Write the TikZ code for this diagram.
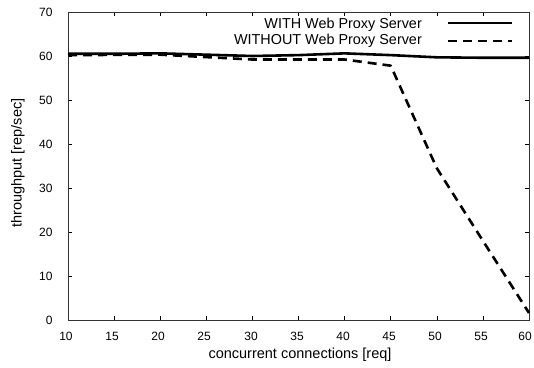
\documentclass[tikz,border=0pt]{standalone}
\usepackage{fontspec}
\setmainfont{Liberation Sans}
\begin{document}
\begin{tikzpicture}[x=1pt,y=1pt,
  ticklab/.style={font=\fontsize{12}{12}\selectfont},
  axlab/.style={font=\fontsize{14.5}{15}\selectfont},
  legtext/.style={font=\fontsize{14.4}{15}\selectfont, anchor=east, inner sep=0pt},
  withline/.style={line width=2.6pt},
  withoutline/.style={line width=2.6pt, dash pattern=on 9pt off 6pt},
  frame/.style={line width=0.8pt, draw=black!80},
  tick/.style={line width=0.6pt}]
\useasboundingbox (0,0) rectangle (534,367);
% mapping: X(v)=68+(v-10)*9.22 ; Y(v)=47+4.4*v
\def\xa{68}\def\xb{529}\def\ya{47}\def\yb{355}
% ticks
\foreach \v in {10,15,...,60} {
  \pgfmathsetmacro{\px}{68+(\v-10)*9.22}
  \draw[tick] (\px,\ya) -- ++(0,4);
  \draw[tick] (\px,\yb) -- ++(0,-4);
}
\foreach \v/\lx in {10/66,15/112,20/158,25/204,30/251,35/297,40/343,45/389,50/435,55/481,60/525} {
  \node[ticklab] at (\lx,31) {\v};
}
\foreach \v in {0,10,...,70} {
  \pgfmathsetmacro{\py}{47+4.4*\v}
  \draw[tick] (\xa,\py) -- ++(4,0);
  \draw[tick] (\xb,\py) -- ++(-4,0);
  \node[ticklab, anchor=east] at (56,\py) {\v};
}
\draw[frame] (\xa,\ya) rectangle (\xb,\yb);
% axis labels
\node[axlab] (xl) at (300,12) {concurrent connections [req]};
\node[axlab, rotate=90] (yl) at (18,204) {throughput [rep/sec]};
% legend
\node[legtext] (l1) at (422,342) {WITH Web Proxy Server};
\node[legtext] (l2) at (422,326) {WITHOUT Web Proxy Server};
\coordinate (s1) at (448,344); \coordinate (e1) at (512,344);
\coordinate (s2) at (448,326); \coordinate (e2) at (512,326);
\draw[withline] (s1) -- (e1);
\draw[withoutline] (s2) -- (e2);
% data
\draw[withline, line join=round]
  plot coordinates {
    ({68+0*9.22},{47+4.4*60.5})
    ({68+5*9.22},{47+4.4*60.5})
    ({68+10*9.22},{47+4.4*60.6})
    ({68+15*9.22},{47+4.4*60.3})
    ({68+20*9.22},{47+4.4*60.0})
    ({68+25*9.22},{47+4.4*60.2})
    ({68+30*9.22},{47+4.4*60.6})
    ({68+35*9.22},{47+4.4*60.2})
    ({68+40*9.22},{47+4.4*59.7})
    ({68+45*9.22},{47+4.4*59.6})
    ({68+50*9.22},{47+4.4*59.6})
  };
\draw[withoutline, line join=round]
  plot coordinates {
    ({68+0*9.22},{47+4.4*60.2})
    ({68+10*9.22},{47+4.4*60.3})
    ({68+20*9.22},{47+4.4*59.2})
    ({68+30*9.22},{47+4.4*59.2})
    ({68+35*9.22},{47+4.4*57.8})
    ({68+40*9.22},{47+4.4*34.5})
    ({68+45*9.22},{47+4.4*18.0})
    ({68+50*9.22},{47+4.4*1.6})
  };
\end{tikzpicture}
\end{document}
